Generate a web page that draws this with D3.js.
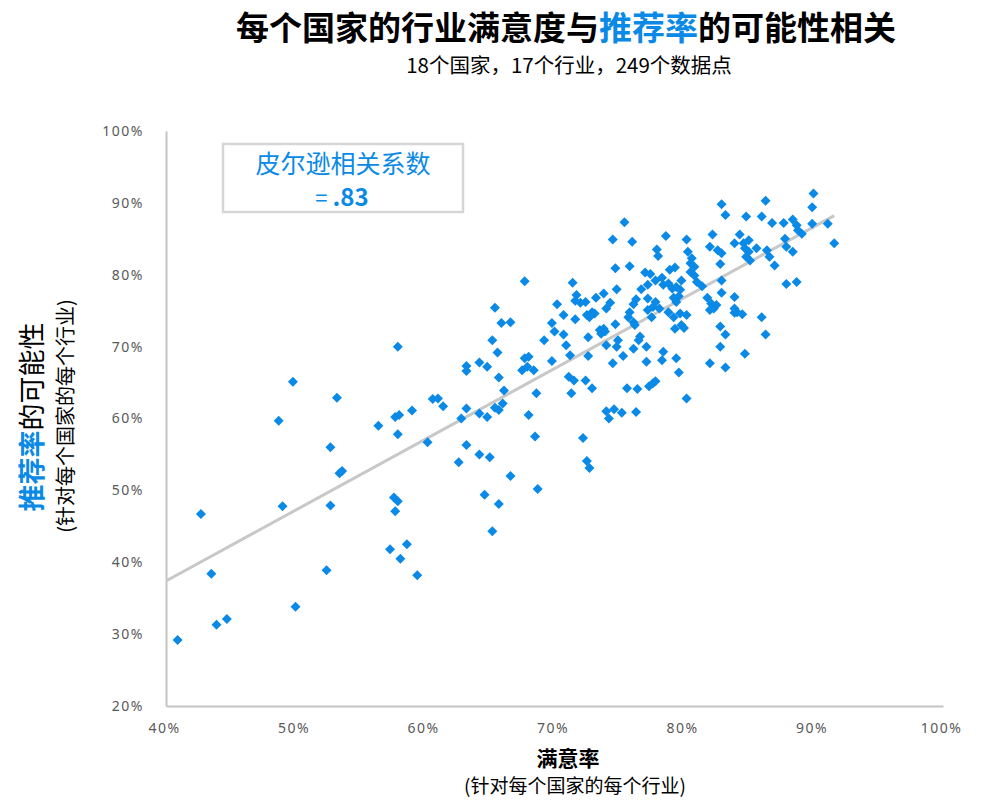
<!DOCTYPE html>
<html><head><meta charset="utf-8">
<script src="https://cdn.jsdelivr.net/npm/d3@7"></script>
<style>body{margin:0;background:#fff;} svg{display:block}</style>
</head><body><svg id="chart" width="1000" height="800"></svg>
<script>
// satisfaction (%) per country-industry pair
const satisfaction = [
49.8,53.2,48.7,52.7,53.4,53.6,42.7,49.0,52.7,43.5,52.4,50.0,43.9,44.7,40.9,
57.9,65.2,65.6,63.2,63.2,64.2,64.8,67.7,68.0,67.5,67.9,68.4,65.7,66.1,68.6,60.6,61.0,61.4,59.0,57.7,58.0,56.4,57.9,
63.2,64.2,64.8,65.4,65.7,66.0,68.0,62.8,68.5,60.2,63.2,64.2,65.0,62.6,66.6,57.6,57.9,57.7,64.6,65.7,68.7,65.2,58.6,
57.3,58.1,59.4,65.4,65.9,66.6,
67.7,71.4,71.7,71.6,72.0,72.4,73.2,73.8,70.2,70.7,71.6,72.5,72.9,73.1,72.7,69.8,70.0,70.7,69.2,72.6,70.9,71.2,72.6,
69.8,71.1,71.5,72.4,72.9,71.3,72.2,72.5,72.7,
75.4,74.5,76.0,78.6,80.2,77.9,78.0,80.3,80.6,80.5,80.8,74.7,75.8,77.0,77.4,78.9,79.3,80.8,81.0,79.8,77.8,78.3,78.4,
78.8,79.1,79.4,79.7,77.2,76.7,74.8,74.3,74.0,76.3,76.1,77.2,77.8,77.6,78.1,79.6,79.4,75.8,75.7,77.2,77.5,78.8,79.2,
79.7,80.2,74.7,76.1,76.2,79.3,79.8,73.5,73.6,73.9,76.6,76.5,74.0,74.9,74.8,77.1,76.1,75.3,74.5,77.1,78.4,78.3,79.4,
79.6,73.8,80.5,79.2,80.0,80.2,75.6,76.4,77.3,77.6,77.8,74.0,74.2,74.6,75.2,76.3,
90.0,86.3,82.9,89.9,83.2,84.8,86.0,86.8,87.7,88.4,88.7,88.8,89.1,89.9,91.1,91.6,82.2,84.3,82.0,82.6,82.9,83.9,84.6,
85.0,84.7,85.0,84.8,85.1,85.6,86.4,86.6,87.8,87.9,88.4,87.0,82.8,82.9,81.4,87.9,88.7,82.9,83.9,81.8,82.1,82.3,82.0,
82.5,83.9,84.1,84.5,83.9,86.0,82.8,83.2,86.3,82.8,84.7,82.0,83.2
];
// likelihood to recommend (%) for the same pairs
const recommend = [
65.1,62.9,59.7,56.0,52.4,52.7,46.7,47.8,47.9,38.4,38.9,33.8,31.3,32.1,29.2,
70.0,70.9,69.2,67.3,66.6,67.8,67.2,68.4,68.6,66.7,67.2,66.7,65.7,63.9,63.5,62.7,62.8,61.7,61.1,60.2,60.5,59.0,57.8,
61.4,60.7,60.2,61.5,61.2,62.1,60.5,60.0,57.5,56.7,56.3,55.0,54.6,53.9,52.0,49.0,48.5,47.1,49.4,48.1,50.2,44.3,42.5,
41.8,40.5,38.2,75.4,73.3,73.4,
79.1,78.9,77.2,76.4,76.1,76.2,76.8,77.4,75.9,74.4,73.8,74.4,74.8,74.6,74.1,73.3,72.1,71.7,70.9,71.3,70.2,68.8,68.7,
68.0,65.8,65.3,65.3,64.2,63.5,57.3,54.1,53.1,
87.3,84.9,84.6,85.4,84.9,83.5,82.6,83.2,82.3,81.6,81.1,80.9,81.2,80.3,80.1,80.7,81.0,79.9,79.0,79.2,79.2,79.6,78.6,
78.8,78.1,78.3,77.9,78.6,78.0,78.0,76.1,75.3,76.6,75.9,76.7,76.2,75.5,75.3,77.0,76.2,74.8,74.1,75.1,74.1,74.8,74.1,
74.6,74.4,73.1,73.4,73.0,72.5,73.0,72.3,71.8,72.1,71.4,70.9,70.2,70.9,70.0,70.0,69.7,68.7,67.7,67.9,69.3,68.1,68.4,
66.4,72.5,80.4,76.8,72.6,62.8,64.2,64.1,64.5,64.9,65.2,61.0,60.0,61.3,60.8,60.9,
91.3,90.3,89.8,89.4,88.3,88.1,88.1,87.2,87.2,87.7,86.9,86.2,85.7,87.1,87.1,84.4,85.6,85.6,83.9,83.4,83.0,84.4,84.4,
84.8,83.7,83.2,82.5,82.0,83.7,83.4,82.5,85.0,83.9,83.2,81.3,81.5,79.2,78.4,78.7,79.0,77.5,76.9,76.8,76.0,75.3,75.1,
75.8,75.3,74.8,74.5,74.7,74.1,72.8,71.7,71.7,70.0,69.0,67.7,67.1
];
const xTicks = [40, 50, 60, 70, 80, 90, 100];
const yTicks = [20, 30, 40, 50, 60, 70, 80, 90, 100];
const pearson = ".83";

const BLUE = "#0a8ae6";
const CJK = "'Noto Sans CJK SC', 'Noto Sans', sans-serif";
const svg = d3.select("#chart");

const x = d3.scaleLinear().domain([40, 100]).range([166, 943]);
const y = d3.scaleLinear().domain([20, 100]).range([706, 131]);

// axes
const yAxis = svg.append("g").attr("transform", `translate(${x(40)},0)`)
  .call(d3.axisLeft(y).tickValues(yTicks).tickSize(0).tickPadding(22).tickFormat(d => d + "%"));
const xAxis = svg.append("g").attr("transform", `translate(0,${y(20)})`)
  .call(d3.axisBottom(x).tickValues(xTicks).tickSize(0).tickPadding(17).tickFormat(d => d + "%"));
[yAxis, xAxis].forEach(g => {
  g.select(".domain").attr("stroke", "#c4c4c4").attr("stroke-width", 2);
  g.selectAll("text").attr("font-family", "'Noto Sans', sans-serif").attr("font-size", 14)
    .attr("letter-spacing", "1.5px").attr("fill", "#595959");
});
xAxis.selectAll("text").attr("dx", "-2px");

// trend line (least squares from the data)
const pts = satisfaction.map((s, i) => [s, recommend[i]]);
const mx = d3.mean(satisfaction), my = d3.mean(recommend);
const slope = d3.sum(pts, p => (p[0] - mx) * (p[1] - my)) / d3.sum(pts, p => (p[0] - mx) ** 2);
const icpt = my - slope * mx;
const xs = [40, d3.max(satisfaction)];
svg.append("line")
  .attr("x1", x(xs[0])).attr("y1", y(icpt + slope * xs[0]))
  .attr("x2", x(xs[1])).attr("y2", y(icpt + slope * xs[1]))
  .attr("stroke", "#c8c8c8").attr("stroke-width", 3);

// points
svg.append("g").selectAll("path").data(pts).join("path")
  .attr("d", "M0,-5L5,0L0,5L-5,0Z")
  .attr("transform", d => `translate(${x(d[0])},${y(d[1])})`)
  .attr("fill", BLUE);

// Pearson box
svg.append("rect").attr("x", 223).attr("y", 144).attr("width", 240).attr("height", 68)
  .attr("fill", "#fff").attr("stroke", "#d6d6d6").attr("stroke-width", 2.5);
svg.append("text").attr("x", 343).attr("y", 173).attr("text-anchor", "middle")
  .attr("font-family", CJK).attr("font-size", 25).attr("fill", BLUE).text("皮尔逊相关系数");
const pt = svg.append("text").attr("x", 342).attr("y", 206).attr("text-anchor", "middle")
  .attr("font-family", CJK).attr("font-size", 22).attr("fill", BLUE);
pt.append("tspan").text("= ");
pt.append("tspan").attr("font-weight", "bold").attr("font-size", 24).text(pearson);

// title
const t = svg.append("text").attr("x", 566).attr("y", 40).attr("text-anchor", "middle")
  .attr("font-family", CJK).attr("font-size", 33).attr("font-weight", "bold").attr("fill", "#000");
t.append("tspan").text("每个国家的行业满意度与");
t.append("tspan").attr("fill", BLUE).text("推荐率");
t.append("tspan").text("的可能性相关");
svg.append("text").attr("x", 569).attr("y", 73).attr("text-anchor", "middle")
  .attr("font-family", CJK).attr("font-size", 20.5).attr("fill", "#000")
  .text("18个国家，17个行业，249个数据点");

// x axis titles
svg.append("text").attr("x", 568).attr("y", 766).attr("text-anchor", "middle")
  .attr("font-family", CJK).attr("font-size", 21).attr("font-weight", "bold").text("满意率");
svg.append("text").attr("x", 575).attr("y", 793).attr("text-anchor", "middle")
  .attr("font-family", CJK).attr("font-size", 19).text("(针对每个国家的每个行业)");

// y axis titles
const yt = svg.append("text").attr("transform", "translate(42,417) rotate(-90)").attr("text-anchor", "middle")
  .attr("font-family", CJK).attr("font-size", 27);
yt.append("tspan").attr("fill", BLUE).attr("font-weight", "bold").text("推荐率");
yt.append("tspan").attr("fill", "#000").text("的可能性");
svg.append("text").attr("transform", "translate(73,416) rotate(-90)").attr("text-anchor", "middle")
  .attr("font-family", CJK).attr("font-size", 20).text("(针对每个国家的每个行业)");
</script></body></html>
